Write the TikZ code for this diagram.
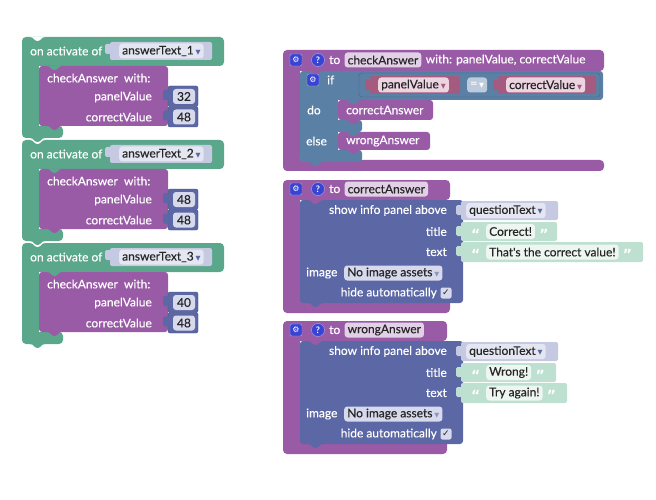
\documentclass[tikz,border=0pt]{standalone}
\usepackage{fontspec}
\setmainfont{Lato}
\newfontface\blkface{Lato}[FakeBold=0.3]
\newfontfamily\symf{DejaVu Sans}
\usetikzlibrary{positioning}

\definecolor{evgreen}{RGB}{91,167,139}
\definecolor{procpurple}{RGB}{153,91,166}
\definecolor{infoblue}{RGB}{92,103,165}
\definecolor{ifblue}{RGB}{91,128,165}
\definecolor{getrose}{RGB}{165,91,128}
\definecolor{complav}{RGB}{197,201,226}
\definecolor{lavfield}{RGB}{228,230,241}
\definecolor{textmint}{RGB}{190,224,209}
\definecolor{mintfield}{RGB}{238,246,242}
\definecolor{pinkfield}{RGB}{236,212,225}
\definecolor{namefield}{RGB}{226,208,230}
\definecolor{numfield}{RGB}{214,218,236}
\definecolor{eqfield}{RGB}{190,203,220}
\definecolor{iconblue}{RGB}{58,68,212}
\definecolor{fldtext}{RGB}{38,38,38}

\newcommand{\blkfont}{\blkface\fontsize{12}{14}\selectfont}
\newcommand{\dd}[1]{\,{\symf\fontsize{6.5}{7}\selectfont\color{#1}▼}}

\tikzset{
  lbl/.style={font=\blkfont, text=white, inner sep=0pt},
  fld/.style={font=\blkfont, text=fldtext, rounded corners=3pt, inner xsep=3pt, inner ysep=0pt, minimum height=15pt},
  qm/.style={font=\symf\bfseries\fontsize{14}{14}\selectfont, text=white, inner sep=0pt},
  gearbox/.style={fill=iconblue, draw=white!55!iconblue, rounded corners=2pt, minimum size=12pt, inner sep=0pt, text=white, font=\symf\fontsize{8}{8}\selectfont},
  helpdot/.style={circle, fill=iconblue, draw=white!55!iconblue, minimum size=13pt, inner sep=0pt, text=white, font=\fontsize{9}{9}\selectfont\bfseries},
  tab/.pic={\path[pic actions] (0,0) .. controls (4,0) and (4,4) .. (7.5,4) .. controls (11,4) and (11,0) .. (15,0) -- cycle;},
  plug/.pic={\path[pic actions, rounded corners=1.5pt] (-5,3) rectangle (1,13);}
}

\newcommand{\infoproc}[8]{%
\begin{scope}[shift={(0,#1)}]
\fill[procpurple, rounded corners=4pt] (283,0) rectangle (#4,20);
\fill[procpurple] (283,10) rectangle (300,125);
\fill[procpurple, rounded corners=4pt] (283,118) rectangle (#4,133);
\fill[infoblue, rounded corners=3pt] (300,20) rectangle (463,123);
\pic[fill=procpurple] at (308,20) {tab};
\pic[fill=infoblue] at (308,123) {tab};
\node[gearbox] (#2gear) at (296,9) {⚙};
\node[helpdot] (#2help) at (318,9) {?};
\node[lbl, anchor=west] (#2to) at (329,9) {to};
\node[fld, fill=namefield, right=4pt of #2to] (#2name) {#3};
\fill[complav, rounded corners=2pt] (461,21) rectangle (558,40);
\pic[fill=complav] at (461,22) {plug};
\node[fld, fill=lavfield, anchor=west] (#2comp) at (466,30.5) {questionText\dd{infoblue}};
\fill[textmint, rounded corners=2pt] (461,42) rectangle (#6,61);
\pic[fill=textmint] at (461,43) {plug};
\node[qm, anchor=west] (#2oq1) at (471,54) {“};
\node[fld, fill=mintfield, anchor=west] (#2title) at (486,51.5) {#5};
\node[qm, anchor=west] (#2cq1) at ([xshift=4pt]#2title.east |- #2oq1) {”};
\fill[textmint, rounded corners=2pt] (461,62) rectangle (#8,82);
\pic[fill=textmint] at (461,63) {plug};
\node[qm, anchor=west] (#2oq2) at (471,74.5) {“};
\node[fld, fill=mintfield, anchor=west] (#2text) at (486,72) {#7};
\node[qm, anchor=west] (#2cq2) at ([xshift=4pt]#2text.east |- #2oq2) {”};
\node[lbl, anchor=east] (#2show) at (447,30.5) {show info panel above};
\node[lbl, anchor=east] (#2tl) at (447,51.5) {title};
\node[lbl, anchor=east] (#2tx) at (447,72) {text};
\node[lbl, anchor=west] (#2img) at (306,93) {image};
\node[fld, fill=numfield, anchor=west] (#2asset) at (344,93) {No image assets\dd{infoblue!70}};
\node[lbl, anchor=east] (#2hide) at (437,113) {hide automatically};
\node[fld, fill=numfield, minimum size=11pt, inner sep=0pt, rounded corners=2pt, font=\symf\fontsize{9}{9}\selectfont] (#2chk) at (446,113) {✓};
\end{scope}}

\begin{document}
\begin{tikzpicture}[x=1pt, y=-1pt]
\useasboundingbox (0,0) rectangle (656,500);

\foreach \i/\y/\pv in {1/37/32, 2/140/48, 3/243/40} {
  \fill[evgreen, rounded corners=4pt] (22,\y) rectangle (224,\y+29);
  \fill[evgreen] (22,\y+10) rectangle (39,\y+95);
  \fill[evgreen, rounded corners=4pt] (22,\y+89) rectangle (63,\y+101);
  \pic[fill=white] at (30,\y) {tab};
  \fill[procpurple, rounded corners=3pt] (39,\y+29) rectangle (168,\y+89);
  \pic[fill=evgreen] at (47,\y+29) {tab};
  \pic[fill=procpurple] at (47,\y+89) {tab};
  \fill[complav, rounded corners=2pt] (110,\y+5) rectangle (212,\y+23);
  \pic[fill=complav] at (110,\y+4) {plug};
  \node[lbl, anchor=west] (on\i) at (30,\y+14) {on activate of};
  \node[fld, fill=lavfield, anchor=west] (cmp\i) at (119,\y+14) {answerText\_\i\dd{infoblue}};
  \node[lbl, anchor=west] (ca\i) at (47,\y+41) {checkAnswer\ \ with:};
  \draw[infoblue!75!black, fill=infoblue, line width=0.4pt, rounded corners=2pt] (168,\y+49) rectangle (198,\y+69.5);
  \draw[infoblue!75!black, fill=infoblue, line width=0.4pt, rounded corners=2pt] (168,\y+69.5) rectangle (198,\y+90);
  \pic[fill=infoblue] at (168,\y+50) {plug};
  \pic[fill=infoblue] at (168,\y+70.5) {plug};
  \node[lbl, anchor=east] (pl\i) at (152,\y+60) {panelValue};
  \node[lbl, anchor=east] (cv\i) at (152,\y+80) {correctValue};
  \node[fld, fill=numfield, minimum width=22pt] (pn\i) at (184,\y+59.5) {\pv};
  \node[fld, fill=numfield, minimum width=22pt] (cn\i) at (184,\y+80) {48};
}
\foreach \y in {37,140,243} {
  \pic[fill=evgreen] at (30,\y+101) {tab};
}

\fill[procpurple, rounded corners=4pt] (283,50) rectangle (604,71);
\fill[procpurple] (283,60) rectangle (300,165);
\fill[procpurple, rounded corners=4pt] (283,160) rectangle (604,171);
\fill[ifblue, rounded corners=3pt] (300,71) rectangle (603,100);
\fill[ifblue] (300,90) rectangle (338,155);
\fill[ifblue, rounded corners=3pt] (300,120) rectangle (362,132);
\fill[ifblue, rounded corners=3pt] (300,150) rectangle (362,162);
\pic[fill=procpurple] at (308,71) {tab};
\pic[fill=ifblue] at (308,162) {tab};
\fill[procpurple, rounded corners=3pt] (338,100) rectangle (433,120);
\fill[procpurple, rounded corners=3pt] (338,132) rectangle (430,150);
\pic[fill=ifblue] at (346,100) {tab};
\pic[fill=procpurple] at (346,120) {tab};
\pic[fill=ifblue] at (346,132) {tab};
\pic[fill=procpurple] at (346,150) {tab};
\draw[ifblue!80!black, fill=ifblue, line width=0.4pt, rounded corners=3pt] (359,73) rectangle (600,97);
\fill[getrose, rounded corners=2pt] (370,76) rectangle (460,94);
\pic[fill=getrose] at (370,77) {plug};
\fill[getrose, rounded corners=2pt] (498,76) rectangle (596,94);
\pic[fill=getrose] at (498,77) {plug};

\node[gearbox] (gear1) at (296,60) {⚙};
\node[helpdot] (help1) at (318,60) {?};
\node[lbl, anchor=west] (to1) at (329,60) {to};
\node[fld, fill=namefield, right=4pt of to1] (name1) {checkAnswer};
\node[lbl, right=4pt of name1] (with1) {with: panelValue, correctValue};
\node[gearbox] (gear2) at (313,80) {⚙};
\node[lbl, anchor=west] (if1) at (327,80) {if};
\node[fld, fill=pinkfield, anchor=west] (getp) at (378,85) {panelValue\dd{getrose}};
\node[fld, fill=eqfield, text=white, anchor=west] (eq) at (467,85) {=\dd{white}};
\node[fld, fill=pinkfield, anchor=west] (getc) at (506,85) {correctValue\dd{getrose}};
\node[lbl, anchor=west] (do1) at (307,110) {do};
\node[lbl, anchor=west] (else1) at (306,141) {else};
\node[lbl, anchor=west] (callc) at (346,110) {correctAnswer};
\node[lbl, anchor=west] (callw) at (346,141) {wrongAnswer};

\infoproc{180}{c}{correctAnswer}{450}{Correct!}{557}{That's the correct value!}{643}
\infoproc{321}{w}{wrongAnswer}{447}{Wrong!}{556}{Try again!}{567}
\end{tikzpicture}
\end{document}
